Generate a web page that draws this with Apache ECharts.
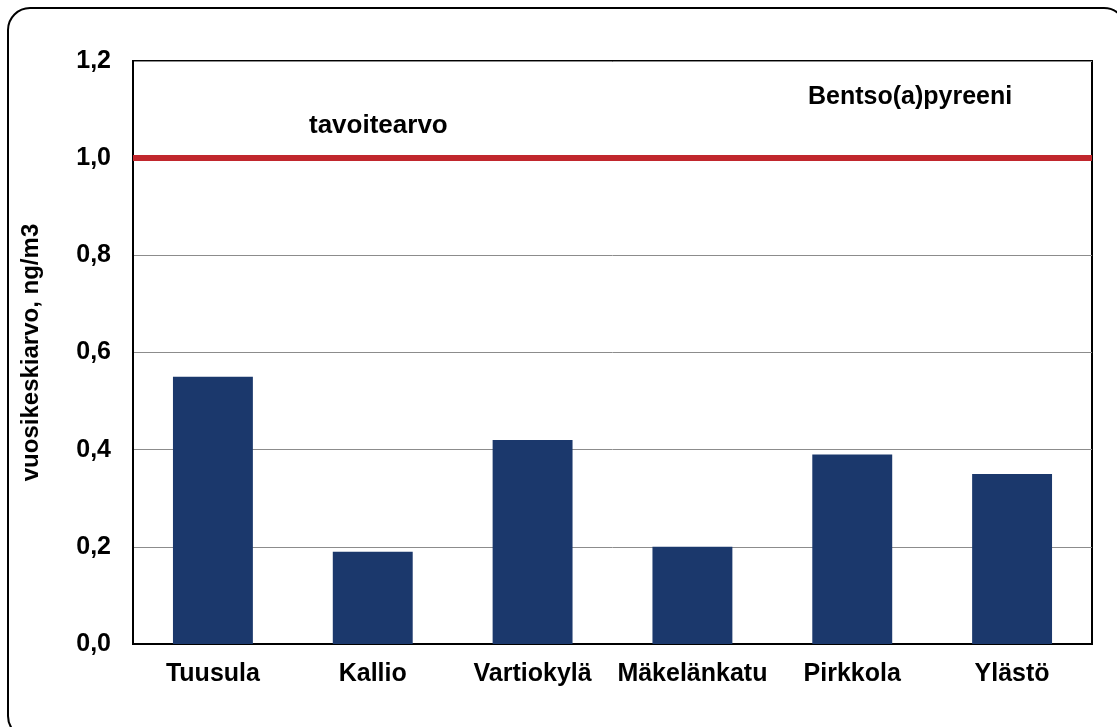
<!DOCTYPE html>
<html>
<head>
<meta charset="utf-8">
<script src="https://cdn.jsdelivr.net/npm/echarts@6/dist/echarts.min.js"></script>
<style>
  html, body { margin: 0; padding: 0; background: #fff; }
  #chart { width: 1117px; height: 727px; }
</style>
</head>
<body>
<div id="chart"></div>
<script>
const stations = ['Tuusula', 'Kallio', 'Vartiokylä', 'Mäkelänkatu', 'Pirkkola', 'Ylästö']
const bapValues = [0.55, 0.19, 0.42, 0.20, 0.39, 0.35]
const targetValue = 1.0
const yTicks = [0, 0.2, 0.4, 0.6, 0.8, 1.0, 1.2]

const chart = echarts.init(document.getElementById('chart'))
const font = 'Liberation Sans, Arial, sans-serif'

const option = {
  animation: false,
  backgroundColor: '#fff',
  grid: {
    left: 133,
    right: 25,
    top: 61,
    bottom: 83,
    show: true,
    borderColor: '#000',
    borderWidth: 2
  },
  xAxis: {
    type: 'category',
    data: stations,
    axisTick: { show: false },
    axisLine: { lineStyle: { color: '#000', width: 2 } },
    axisLabel: {
      interval: 0,
      hideOverlap: false,
      color: '#000',
      fontFamily: font,
      fontWeight: 'bold',
      fontSize: 25,
      margin: 18
    }
  },
  yAxis: {
    type: 'value',
    min: yTicks[0],
    max: yTicks[yTicks.length - 1],
    interval: 0.2,
    name: 'vuosikeskiarvo, ng/m3',
    nameLocation: 'middle',
    nameGap: 90,
    nameTextStyle: {
      color: '#000',
      fontFamily: font,
      fontWeight: 'bold',
      fontSize: 24
    },
    axisLine: { show: true, lineStyle: { color: '#000', width: 2 } },
    axisTick: { show: false },
    splitLine: { lineStyle: { color: '#8c8c8c', width: 1 } },
    axisLabel: {
      color: '#000',
      fontFamily: font,
      fontWeight: 'bold',
      fontSize: 25,
      margin: 22,
      formatter: v => v.toFixed(1).replace('.', ',')
    }
  },
  series: [
    {
      type: 'bar',
      data: bapValues,
      barWidth: '50%',
      itemStyle: { color: '#1b386c' },
      markLine: {
        silent: true,
        symbol: 'none',
        label: { show: false },
        lineStyle: { color: '#c1272d', width: 6, type: 'solid' },
        data: [{ yAxis: targetValue }]
      }
    }
  ],
  graphic: [
    {
      type: 'rect',
      shape: { x: 8, y: 8, width: 1118, height: 730, r: 22 },
      style: { fill: 'none', stroke: '#000', lineWidth: 2 },
      z: -1
    },
    {
      type: 'text',
      left: 309,
      top: 113,
      style: { text: 'tavoitearvo', fontFamily: font, fontWeight: 'bold', fontSize: 26, fill: '#000' }
    },
    {
      type: 'text',
      left: 808,
      top: 85,
      style: { text: 'Bentso(a)pyreeni', fontFamily: font, fontWeight: 'bold', fontSize: 25, fill: '#000' }
    }
  ]
}

chart.setOption(option)
</script>
</body>
</html>
